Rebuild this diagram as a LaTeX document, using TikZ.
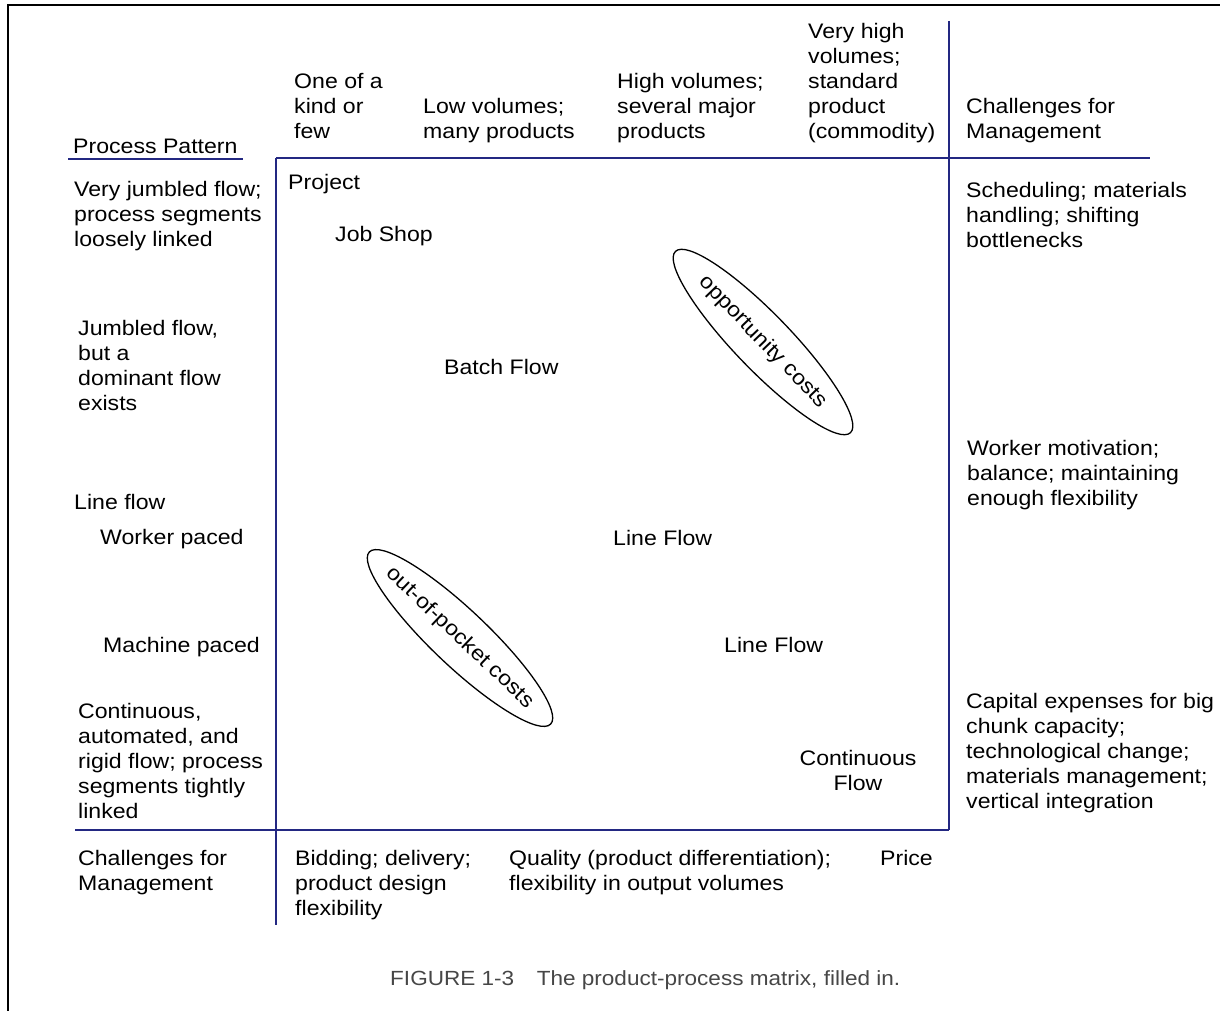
\documentclass[tikz,border=0pt]{standalone}
\usepackage{fontspec}
\setmainfont{Liberation Sans}[FakeStretch=1.1]
\definecolor{navy}{RGB}{35,40,130}
\definecolor{capgray}{RGB}{70,70,70}
\begin{document}
\begin{tikzpicture}[x=1pt,y=1pt,
  every node/.style={font=\fontsize{21}{25}\selectfont, inner sep=0pt, align=left, anchor=north west},
  rule/.style={navy, line width=1.8pt},
  blobtext/.style={anchor=center},
  blob/.style={line width=1.3pt}]
\useasboundingbox (0,0) rectangle (1220,-1011);
% outer frame
\draw[line width=2pt] (8,-1011) -- (8,-5) -- (1220,-5);
% matrix rules
\coordinate (bl) at (75,-830);
\coordinate (br) at (949,-830);
\coordinate (tl) at (276,-158);
\coordinate (tr) at (1150,-158);
\coordinate (lb) at (276,-925);
\coordinate (rt) at (949,-21);
\coordinate (u1) at (68,-159);
\coordinate (u2) at (243,-159);
\draw[rule] (bl) -- (br);
\draw[rule] (tl) -- (tr);
\draw[rule] (tl) -- (lb);
\draw[rule] (rt) -- (br);
\draw[rule] (u1) -- (u2);
% header
\node (h1) at (294,-73) {One of a\\kind or\\few};
\node (h2) at (423,-98) {Low volumes;\\many products};
\node (h3) at (617,-73) {High volumes;\\several major\\products};
\node (h4) at (808,-23) {Very high\\volumes;\\standard\\product\\(commodity)};
\node (h5) at (966,-98) {Challenges for\\Management};
\node (pp) at (73,-139) {Process Pattern};
% left column
\node (l1) at (74,-181) {Very jumbled flow;\\process segments\\loosely linked};
\node (l2) at (78,-320) {Jumbled flow,\\but a\\dominant flow\\exists};
\node (l3) at (74,-494) {Line flow};
\node (l4) at (100,-529) {Worker paced};
\node (l5) at (103,-637) {Machine paced};
\node (l6) at (78,-703) {Continuous,\\automated, and\\rigid flow; process\\segments tightly\\linked};
% inside
\node (m1) at (288,-174) {Project};
\node (m2) at (335,-226) {Job Shop};
\node (m3) at (444,-359) {Batch Flow};
\node (m4) at (613,-530) {Line Flow};
\node (m5) at (724,-637) {Line Flow};
\node[align=center, anchor=north] (m6) at (858,-750) {Continuous\\Flow};
% ellipses
\node[blobtext, rotate=-46] (opp) at (763,-342) {opportunity costs};
\draw[blob, rotate around={-46:(opp.center)}] (opp.center) ellipse [x radius=126, y radius=28];
\node[blobtext, rotate=-43.5] (oop) at (460,-638) {out-of-pocket costs};
\draw[blob, rotate around={-43.5:(oop.center)}] (oop.center) ellipse [x radius=125, y radius=28];
% right column
\node (r1) at (966,-182) {Scheduling; materials\\handling; shifting\\bottlenecks};
\node (r2) at (967,-440) {Worker motivation;\\balance; maintaining\\enough flexibility};
\node (r3) at (966,-693) {Capital expenses for big\\chunk capacity;\\technological change;\\materials management;\\vertical integration};
% bottom
\node (b0) at (78,-850) {Challenges for\\Management};
\node (b1) at (295,-850) {Bidding; delivery;\\product design\\flexibility};
\node (b2) at (509,-850) {Quality (product differentiation);\\flexibility in output volumes};
\node (b3) at (880,-850) {Price};
\node[font=\fontsize{20.5}{24}\selectfont, text=capgray, anchor=west] (cap) at (390,-980) {FIGURE 1-3\hspace{1.1em}The product-process matrix, filled in.};
\end{tikzpicture}
\end{document}
